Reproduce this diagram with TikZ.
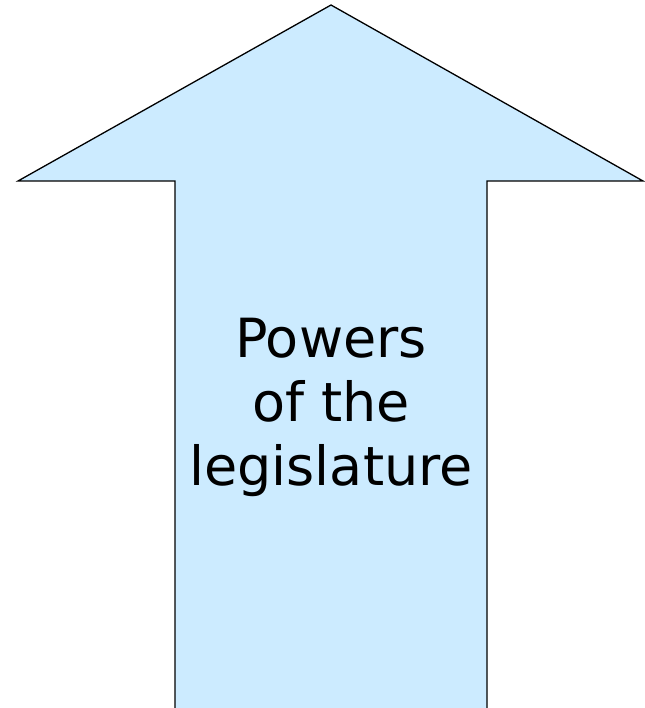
\documentclass[tikz,border=0pt]{standalone}
\usepackage{fontspec}
\setmainfont{DejaVu Sans}
\definecolor{arrowblue}{HTML}{CCEBFF}

\begin{document}
\begin{tikzpicture}[
			x=1pt, y=-1pt,
			label/.style={align=center, inner sep=0pt, font=\fontsize{54}{64}\selectfont}
		]
		\useasboundingbox (0,0) rectangle (644,708);
		% big up arrow, open at the bottom
		\fill[arrowblue] (175,708) -- (175,181) -- (18,181) -- (331,5) -- (643,181) -- (487,181) -- (487,708) -- cycle;
		\draw[line width=1.3pt, line join=miter] (175,709) -- (175,181) -- (18,181) -- (331,5) -- (643,181) -- (487,181) -- (487,709);
		\node[label] (powers) at (331,407) {Powers\\of the\\legislature};
	\end{tikzpicture}
\end{document}
